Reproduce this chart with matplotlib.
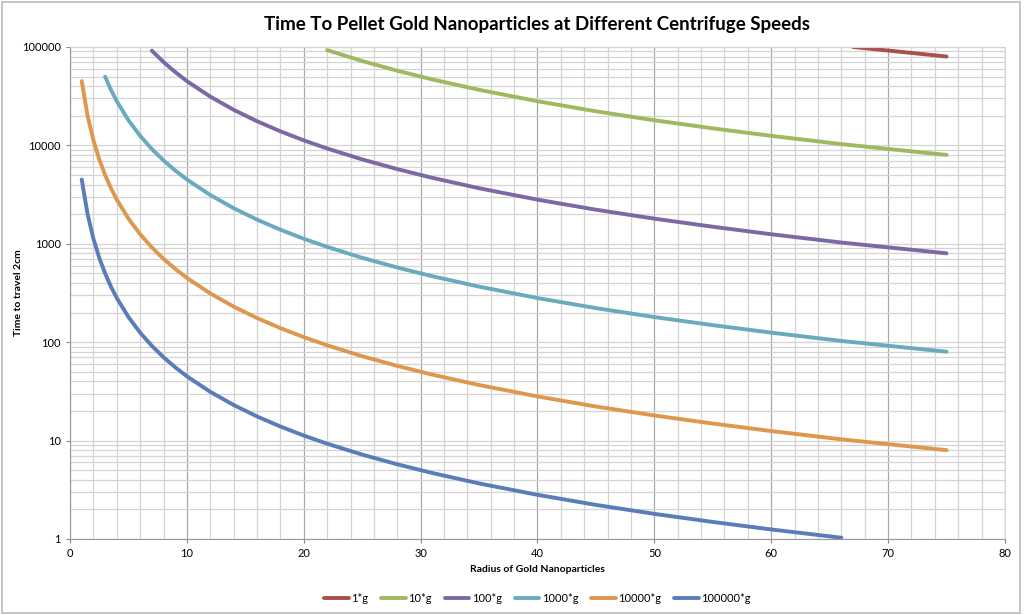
import numpy as np
import matplotlib.pyplot as plt
from matplotlib.patches import Rectangle
from matplotlib.ticker import FixedLocator, NullFormatter

plt.rcParams['font.family'] = ['Lato', 'DejaVu Sans']

# Values (radius vs time to travel 2cm)
r_100000g = [1, 1.5, 2, 2.5, 3, 3.5, 4, 5, 6, 7, 8, 9, 10, 12, 14, 16, 18, 20, 22, 25,
             28, 31, 35, 40, 45, 50, 55, 60, 66]
t_100000g = [4500, 2000, 1125, 720, 500, 367, 281, 180, 125, 91.8, 70.3, 55.6, 45, 31.3, 23,
             17.6, 13.9, 11.25, 9.3, 7.2, 5.74, 4.68, 3.67, 2.81, 2.22, 1.8, 1.49, 1.25, 1.03]

r_10000g = [1, 1.5, 2, 2.5, 3, 3.5, 4, 5, 6, 7, 8, 9, 10, 12, 14, 16, 18, 20, 22, 25,
            28, 31, 35, 40, 45, 50, 55, 60, 66, 70, 75]
t_10000g = [45000, 20000, 11250, 7200, 5000, 3670, 2810, 1800, 1250, 918, 703, 556, 450, 313,
            230, 176, 139, 112.5, 93, 72, 57.4, 46.8, 36.7, 28.1, 22.2, 18, 14.9, 12.5, 10.3,
            9.2, 8.0]

r_1000g = [3, 3.5, 4, 5, 6, 7, 8, 9, 10, 12, 14, 16, 18, 20, 22, 25, 28, 31, 35, 40, 45,
           50, 55, 60, 66, 70, 75]
t_1000g = [50000, 36700, 28100, 18000, 12500, 9180, 7030, 5560, 4500, 3130, 2300, 1760, 1390,
           1125, 930, 720, 574, 468, 367, 281, 222, 180, 149, 125, 103, 92, 80]

r_100g = [7, 8, 9, 10, 12, 14, 16, 18, 20, 22, 25, 28, 31, 35, 40, 45, 50, 55, 60, 66, 70, 75]
t_100g = [91800, 70300, 55600, 45000, 31300, 23000, 17600, 13900, 11250, 9300, 7200, 5740,
          4680, 3670, 2810, 2220, 1800, 1490, 1250, 1030, 920, 800]

r_10g = [22, 25, 28, 31, 35, 40, 45, 50, 55, 60, 66, 70, 75]
t_10g = [93000, 72000, 57400, 46800, 36700, 28100, 22200, 18000, 14900, 12500, 10300, 9200, 8000]

r_1g = [67, 70, 75]
t_1g = [100000, 92000, 80000]

series = [
    ('1*g', r_1g, t_1g, '#A8504C'),
    ('10*g', r_10g, t_10g, '#A0B85F'),
    ('100*g', r_100g, t_100g, '#7D68A6'),
    ('1000*g', r_1000g, t_1000g, '#6AAABE'),
    ('10000*g', r_10000g, t_10000g, '#DD984F'),
    ('100000*g', r_100000g, t_100000g, '#5A7CB8'),
]

fig = plt.figure(figsize=(10.24, 6.15), dpi=100)
ax = fig.add_axes([0.0684, 0.1236, 0.913, 0.80])

for name, r, t, c in series:
    ax.plot(r, t, color=c, linewidth=2.8, label=name, solid_capstyle='round')

ax.set_yscale('log')
ax.set_xlim(0, 80)
ax.set_ylim(1, 100000)
ax.set_xticks(range(0, 81, 10))
ax.xaxis.set_minor_locator(FixedLocator(np.arange(0, 81, 2)))
ax.set_yticks([1, 10, 100, 1000, 10000, 100000])
ax.set_yticklabels(['1', '10', '100', '1000', '10000', '100000'])
ax.yaxis.set_minor_formatter(NullFormatter())

ax.grid(True, which='major', axis='x', color='#a8a8a8', linewidth=0.9)
ax.grid(True, which='minor', axis='x', color='#d4d4d4', linewidth=0.9)
ax.grid(True, which='both', axis='y', color='#d4d4d4', linewidth=0.9)
ax.set_axisbelow(True)

ax.tick_params(which='major', length=3, color='#888888', labelsize=8)
ax.tick_params(which='minor', length=0)
for s in ax.spines.values():
    s.set_color('#d4d4d4')
ax.spines['left'].set_color('#999999')
ax.spines['bottom'].set_color('#999999')

ax.set_title('Time To Pellet Gold Nanoparticles at Different Centrifuge Speeds',
             fontsize=13.5, fontweight='bold', pad=12)
ax.set_xlabel('Radius of Gold Nanoparticles', fontsize=7.5, fontweight='bold', labelpad=4)
ax.set_ylabel('Time to travel 2cm', fontsize=7.5, fontweight='bold')
ax.yaxis.set_label_coords(-0.05, 0.5)

ax.legend(loc='upper center', bbox_to_anchor=(0.5, -0.09), ncol=6, frameon=False,
          fontsize=8, handlelength=2.2, handletextpad=0.2, columnspacing=1.2)

fig.patches.append(Rectangle((0.002, 0.004), 0.994, 0.993, transform=fig.transFigure,
                             fill=False, edgecolor='#bbbbbb', linewidth=1.2))

plt.savefig('out.png', dpi=100)
